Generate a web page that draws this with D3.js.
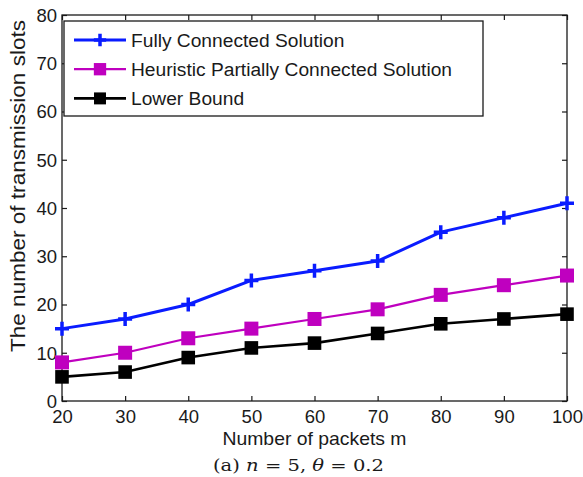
<!DOCTYPE html>
<html>
<head>
<meta charset="utf-8">
<script src="https://cdn.jsdelivr.net/npm/d3@7"></script>
<style>
  html, body { margin: 0; padding: 0; background: #fff; }
  svg { display: block; }
</style>
</head>
<body>
<svg id="chart" width="583" height="477"></svg>
<script>
// Number of packets m
const packets = [20, 30, 40, 50, 60, 70, 80, 90, 100];
// Transmission slots per method
const fullyConnected = [15, 17, 20, 25, 27, 29, 35, 38, 41];
const heuristicPartial = [8, 10, 13, 15, 17, 19, 22, 24, 26];
const lowerBound = [5, 6, 9, 11, 12, 14, 16, 17, 18];
const xTicks = [20, 30, 40, 50, 60, 70, 80, 90, 100];
const yTicks = [0, 10, 20, 30, 40, 50, 60, 70, 80];
const seriesNames = ["Fully Connected Solution", "Heuristic Partially Connected Solution", "Lower Bound"];

const svg = d3.select("#chart");
const plotLeft = 62, plotRight = 567, plotTop = 15, plotBottom = 401;
const x = d3.scaleLinear().domain([20, 100]).range([plotLeft, plotRight]);
const y = d3.scaleLinear().domain([0, 80]).range([plotBottom, plotTop]);
const font = "'Liberation Sans', Arial, sans-serif";
const ink = "#1a1a1a";

// Axes with inward ticks, mirrored on top and right
const tickLen = 5;
const axB = svg.append("g").attr("transform", `translate(0,${plotBottom})`)
  .call(d3.axisBottom(x).tickValues(xTicks).tickSizeInner(-tickLen).tickSizeOuter(0).tickPadding(9));
const axT = svg.append("g").attr("transform", `translate(0,${plotTop})`)
  .call(d3.axisTop(x).tickValues(xTicks).tickSizeInner(-tickLen).tickSizeOuter(0).tickFormat(""));
const axL = svg.append("g").attr("transform", `translate(${plotLeft},0)`)
  .call(d3.axisLeft(y).tickValues(yTicks).tickSizeInner(-tickLen).tickSizeOuter(0).tickPadding(5));
const axR = svg.append("g").attr("transform", `translate(${plotRight},0)`)
  .call(d3.axisRight(y).tickValues(yTicks).tickSizeInner(-tickLen).tickSizeOuter(0).tickFormat(""));
[axB, axT, axL, axR].forEach(g => {
  g.select(".domain").remove();
  g.selectAll(".tick line").attr("stroke", ink).attr("stroke-width", 1.2);
  g.selectAll(".tick text").attr("fill", ink).attr("font-family", font).attr("font-size", 18.5);
});
axL.selectAll(".tick text").attr("dy", "0.35em");

svg.append("rect").attr("x", plotLeft).attr("y", plotTop)
  .attr("width", plotRight - plotLeft).attr("height", plotBottom - plotTop)
  .attr("fill", "none").attr("stroke", ink).attr("stroke-width", 1.3);

// Series definitions
const series = [
  { name: seriesNames[0], values: fullyConnected, color: "#0a1cff", width: 3, marker: "plus" },
  { name: seriesNames[1], values: heuristicPartial, color: "#bf00bf", width: 2.2, marker: "square" },
  { name: seriesNames[2], values: lowerBound, color: "#000000", width: 2.6, marker: "bigsquare" }
];

const line = d3.line().x(d => x(d[0])).y(d => y(d[1]));

function drawMarker(g, cx, cy, s, scale = 1) {
  if (s.marker === "plus") {
    const h = 7 * scale;
    g.append("path").attr("d", `M${cx - h},${cy}H${cx + h}M${cx},${cy - h}V${cy + h}`)
      .attr("stroke", s.color).attr("stroke-width", 3.5).attr("fill", "none");
  } else {
    const h = (s.marker === "bigsquare" ? 6.8 : 7) * scale;
    g.append("rect").attr("x", cx - h).attr("y", cy - h).attr("width", 2 * h).attr("height", 2 * h)
      .attr("fill", s.color);
  }
}

series.forEach(s => {
  const pts = packets.map((p, i) => [p, s.values[i]]);
  const g = svg.append("g");
  g.append("path").datum(pts).attr("d", line)
    .attr("fill", "none").attr("stroke", s.color).attr("stroke-width", s.width)
    .attr("stroke-linejoin", "round");
  pts.forEach(d => drawMarker(g, x(d[0]), y(d[1]), s));
});

// Legend
const lg = svg.append("g");
lg.append("rect").attr("x", 64).attr("y", 21).attr("width", 419).attr("height", 95)
  .attr("fill", "#fff").attr("stroke", ink).attr("stroke-width", 1.3);
series.forEach((s, i) => {
  const cy = 40 + i * 29.2;
  lg.append("line").attr("x1", 74).attr("x2", 126).attr("y1", cy).attr("y2", cy)
    .attr("stroke", s.color).attr("stroke-width", s.width);
  drawMarker(lg, 100, cy, s, 0.88);
  lg.append("text").attr("x", 131).attr("y", cy).attr("dy", "0.36em")
    .attr("font-family", font).attr("font-size", 19.2).attr("fill", ink).text(s.name);
});

// Axis titles
svg.append("text").attr("x", (plotLeft + plotRight) / 2).attr("y", 445)
  .attr("text-anchor", "middle").attr("font-family", font).attr("font-size", 18.5)
  .attr("textLength", 184).attr("lengthAdjust", "spacingAndGlyphs")
  .attr("fill", ink).text("Number of packets m");
svg.append("text").attr("transform", `translate(25,186) rotate(-90)`)
  .attr("text-anchor", "middle").attr("font-family", font).attr("font-size", 21)
  .attr("textLength", 332).attr("lengthAdjust", "spacingAndGlyphs")
  .attr("fill", ink).text("The number of transmission slots");

// Caption
const cap = svg.append("text").attr("x", 298.5).attr("y", 471).attr("text-anchor", "middle")
  .attr("font-family", "'DejaVu Serif', 'Liberation Serif', serif").attr("font-size", 17)
  .attr("textLength", 171).attr("lengthAdjust", "spacingAndGlyphs").attr("fill", ink);
cap.append("tspan").text("(a) ");
cap.append("tspan").attr("font-style", "italic").text("n");
cap.append("tspan").text(" = 5, ");
cap.append("tspan").attr("font-style", "italic").text("θ");
cap.append("tspan").text(" = 0.2");
</script>
</body>
</html>
